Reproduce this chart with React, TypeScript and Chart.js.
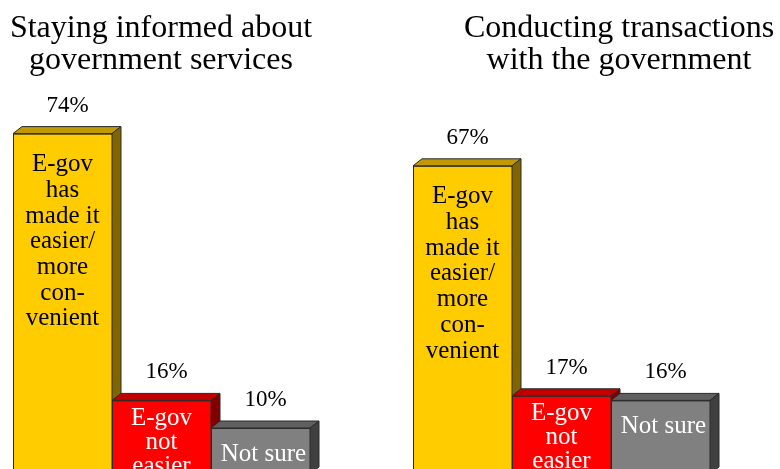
import React, { useEffect, useRef } from "react";
import { Chart, registerables } from "chart.js";

Chart.register(...registerables);

const categories = [
  "E-gov has made it easier/more convenient",
  "E-gov not easier",
  "Not sure",
];
const informedValues = [74, 16, 10];
const transactionsValues = [67, 17, 16];
const informedTitle = ["Staying informed about", "government services"];
const transactionsTitle = ["Conducting transactions", "with the government"];
const barTextLines = [
  ["E-gov", "has", "made it", "easier/", "more", "con-", "venient"],
  ["E-gov", "not", "easier"],
  ["Not sure"],
];
const frontColors = ["#FFCC00", "#FF0000", "#808080"];
const topColors = ["#C09A00", "#C00000", "#606060"];
const sideColors = ["#806600", "#800000", "#404040"];
const textColors = ["#000000", "#FFFFFF", "#FFFFFF"];
const textTopOffsets = [31, 18, 26];
const textLineSpacing = [25.7, 24, 25];

const SERIF = "'Liberation Serif', 'Times New Roman', serif";
const DX = 9;
const DY = -7;

const bars3d = {
  id: "bars3d",
  afterDatasetsDraw(chart: any, _args: any, opts: any) {
    const ctx = chart.ctx;
    const meta = chart.getDatasetMeta(0);
    const values = chart.data.datasets[0].data as number[];
    ctx.save();
    ctx.lineWidth = 1;
    ctx.strokeStyle = "#2a2a2a";
    meta.data.forEach((el: any, i: number) => {
      const p = el.getProps(["x", "y", "base", "width"], true);
      const l = p.x - p.width / 2;
      const r = p.x + p.width / 2;
      const t = p.y;
      const b = p.base;
      // front
      ctx.fillStyle = frontColors[i];
      ctx.fillRect(l, t, r - l, b - t);
      ctx.strokeRect(l + 0.5, t + 0.5, r - l, b - t);
      // top
      ctx.beginPath();
      ctx.moveTo(l, t);
      ctx.lineTo(l + DX, t + DY);
      ctx.lineTo(r + DX, t + DY);
      ctx.lineTo(r, t);
      ctx.closePath();
      ctx.fillStyle = topColors[i];
      ctx.fill();
      ctx.stroke();
      // side
      ctx.beginPath();
      ctx.moveTo(r, t);
      ctx.lineTo(r + DX, t + DY);
      ctx.lineTo(r + DX, b + DY);
      ctx.lineTo(r, b);
      ctx.closePath();
      ctx.fillStyle = sideColors[i];
      ctx.fill();
      ctx.stroke();
      // text inside
      ctx.fillStyle = textColors[i];
      ctx.font = `25px ${SERIF}`;
      ctx.textAlign = "center";
      ctx.textBaseline = "middle";
      barTextLines[i].forEach((line, k) => {
        ctx.fillText(line, p.x + (i === 2 ? 3 : 0), t + textTopOffsets[i] + k * textLineSpacing[i]);
      });
      // value label
      ctx.fillStyle = "#000000";
      ctx.font = `23px ${SERIF}`;
      ctx.fillText(`${values[i]}%`, p.x + 5, t - 28);
    });
    // titles
    ctx.fillStyle = "#000000";
    ctx.font = `32px ${SERIF}`;
    ctx.textAlign = "center";
    ctx.textBaseline = "alphabetic";
    (opts.lines as string[]).forEach((line, k) => {
      ctx.fillText(line, opts.cx, 37 + k * 32);
    });
    ctx.restore();
  },
};

function Panel({ values, title, padLeft, titleX, left }: any) {
  const ref = useRef<HTMLCanvasElement>(null);
  useEffect(() => {
    const chart = new Chart(ref.current!, {
      type: "bar",
      data: {
        labels: categories,
        datasets: [
          {
            data: values,
            backgroundColor: frontColors,
            borderColor: "#2a2a2a",
            borderWidth: 1,
            categoryPercentage: 1,
            barPercentage: 1,
          },
        ],
      },
      options: {
        responsive: false,
        animation: false,
        devicePixelRatio: 1,
        layout: { padding: { left: padLeft, right: 390 - padLeft - 297, top: 106, bottom: 6 } },
        scales: {
          x: { display: false },
          y: { display: false, min: 0, max: 80 },
        },
        plugins: {
          legend: { display: false },
          tooltip: { enabled: false },
          bars3d: { lines: title, cx: titleX },
        } as any,
      },
      plugins: [bars3d],
    });
    return () => chart.destroy();
  }, []);
  return (
    <canvas
      ref={ref}
      width={390}
      height={480}
      style={{ position: "absolute", left, top: 0, width: 390, height: 480 }}
    />
  );
}

export default function App() {
  return (
    <div
      style={{
        position: "absolute",
        left: 0,
        top: 0,
        width: 780,
        height: 469,
        overflow: "hidden",
        background: "#ffffff",
      }}
    >
      <Panel values={informedValues} title={informedTitle} padLeft={13} titleX={161} left={0} />
      <Panel values={transactionsValues} title={transactionsTitle} padLeft={23} titleX={229} left={390} />
    </div>
  );
}
